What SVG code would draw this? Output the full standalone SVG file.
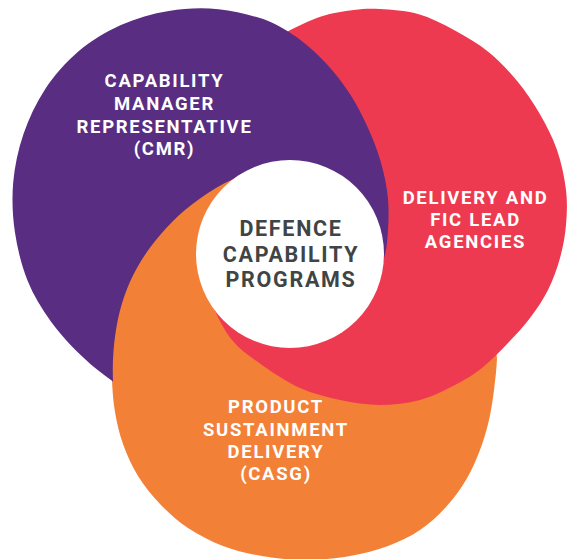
<svg xmlns="http://www.w3.org/2000/svg" width="567" height="559" viewBox="0 0 567 559">
<style>
.purple{fill:#582D82}
.red{fill:#EE3A50}
.orange{fill:#F38037}
.hub{fill:#FFFFFF}
.lbl{font-family:Roboto,"Liberation Sans",Arial,sans-serif;font-weight:700;font-size:18.5px;letter-spacing:1.7px;fill:#FFFFFF;text-anchor:middle}
.ctr{font-family:Roboto,"Liberation Sans",Arial,sans-serif;font-weight:700;font-size:21.5px;letter-spacing:1.7px;fill:#3F4545;text-anchor:middle}
</style>
<g id="sustainment">
<path class="orange" d="M 497,358 C 496.67,368.33 495.33,379.67 494,390 C 492.67,400.33 491.33,410 489,420 C 486.67,430 483.83,440 480,450 C 476.17,460 471.67,470.5 466,480 C 460.33,489.5 453.67,498.67 446,507 C 438.33,515.33 429.67,523.5 420,530 C 410.33,536.5 399.67,541.67 388,546 C 376.33,550.33 363.83,553.67 350,556 C 336.17,558.33 319.67,560 305,560 C 290.33,560 275.67,558.33 262,556 C 248.33,553.67 235.33,550.67 223,546 C 210.67,541.33 198.5,535 188,528 C 177.5,521 168.33,512.67 160,504 C 151.67,495.33 144.17,486 138,476 C 131.83,466 126.83,454.67 123,444 C 119.17,433.33 116.83,422.67 115,412 C 113.17,401.33 112.42,390.33 112,380 C 111.58,369.67 111.67,360.33 112.5,350 C 113.33,339.67 114.75,328.33 117,318 C 119.25,307.67 122.17,297.67 126,288 C 129.83,278.33 134.33,269.17 140,260 C 145.67,250.83 152.67,241.5 160,233 C 167.33,224.5 174.83,216.67 184,209 C 193.17,201.33 204.5,193.25 215,187 C 225.5,180.75 236.33,176.33 247,171.5 L 300,172 L 362,196 L 420,250 L 470,300 L 492,333 Z"/>
<text class="lbl" x="276" y="413">PRODUCT</text>
<text class="lbl" x="276" y="435.5">SUSTAINMENT</text>
<text class="lbl" x="276" y="458">DELIVERY</text>
<text class="lbl" x="276" y="480">(CASG)</text>
</g>
<g id="delivery">
<path class="red" d="M 258,47 C 267.5,41.95 276.62,36.75 287,31.7 C 297.38,26.65 309.18,20.32 320.3,16.7 C 331.42,13.08 343.75,11.28 353.7,10 C 363.65,8.72 369.28,8.33 380,9 C 390.72,9.67 405.67,10.5 418,14 C 430.33,17.5 442.25,23.68 454,30 C 465.75,36.32 477.98,43.42 488.5,51.9 C 499.02,60.38 508.57,70.58 517.1,80.9 C 525.63,91.22 533.05,102.28 539.7,113.8 C 546.35,125.32 552.62,137.3 557,150 C 561.38,162.7 564.5,177.5 566,190 C 567.5,202.5 567,213.67 566,225 C 565,236.33 563,247.17 560,258 C 557,268.83 553,280 548,290 C 543,300 536.67,309.17 530,318 C 523.33,326.83 516,334.67 508,343 C 500,351.33 490.83,361 482,368 C 473.17,375 465.33,379.67 455,385 C 444.67,390.33 432.5,396.67 420,400 C 407.5,403.33 393.33,405 380,405 C 366.67,405 353.33,402.83 340,400 C 326.67,397.17 313,393.83 300,388 C 287,382.17 273.33,373 262,365 C 250.67,357 240.38,350.28 232,340 C 223.62,329.72 217.03,315.8 211.7,303.3 L 232,288 L 245,230 L 266,172 L 276,148 L 262,80 Z"/>
<text class="lbl" x="475.5" y="203.5">DELIVERY AND</text>
<text class="lbl" x="475.5" y="226">FIC LEAD</text>
<text class="lbl" x="475.5" y="248">AGENCIES</text>
</g>
<g id="cmr">
<path class="purple" d="M 113,381.5 C 103.8,375.2 93.15,367.1 82.8,357.1 C 72.45,347.1 60.1,334.2 50.9,321.4 C 41.7,308.6 33.5,295.3 27.5,280.4 C 21.5,265.5 17.3,248.3 14.9,232 C 12.5,215.7 11.8,198.8 13.2,182.5 C 14.6,166.2 18.2,149.6 23.5,134 C 28.8,118.5 36,103 45.1,89.2 C 54.2,75.5 65.7,62.2 78.3,51.5 C 90.9,40.8 105.8,31.8 120.9,25 C 136,18.2 152.5,13.5 168.8,10.9 C 185.1,8.3 202.2,7.6 218.6,9.2 C 235,10.8 254.1,15.9 267,20.5 C 276,23.7 289,31.7 295.8,36.6 C 305.5,43.6 316.3,53 325.1,62.3 C 333.9,71.6 341.8,81.8 348.8,92.3 C 355.8,102.9 361.6,114.1 366.9,125.6 C 372.2,137.1 377,148.9 380.5,161.1 C 384,173.3 386.9,186.1 388,199 C 389.2,211.9 388.3,227.5 387.4,238.4 C 386.5,249.4 384.6,256 382.4,264.7 L 330,300 L 250,205 L 248,172.5 C 237.33,177.33 226.5,181.75 216,188 C 205.5,194.25 194.17,202.33 185,210 C 175.83,217.67 168.33,225.5 161,234 C 153.67,242.5 146.67,251.83 141,261 C 135.33,270.17 130.83,279.33 127,289 C 123.17,298.67 120.25,308.67 118,319 C 115.75,329.33 114.33,340.67 113.5,351 C 112.67,361.33 112.58,370.67 113,381 Z"/>
<text class="lbl" x="164.5" y="87">CAPABILITY</text>
<text class="lbl" x="164.5" y="110">MANAGER</text>
<text class="lbl" x="164.5" y="132.5">REPRESENTATIVE</text>
<text class="lbl" x="164.5" y="155">(CMR)</text>
</g>
<g id="connectors"></g>
<g id="center">
<circle class="hub" cx="290" cy="254" r="94"/>
<text class="ctr" x="291" y="236">DEFENCE</text>
<text class="ctr" x="291" y="261.5">CAPABILITY</text>
<text class="ctr" x="291" y="287">PROGRAMS</text>
</g>
</svg>
